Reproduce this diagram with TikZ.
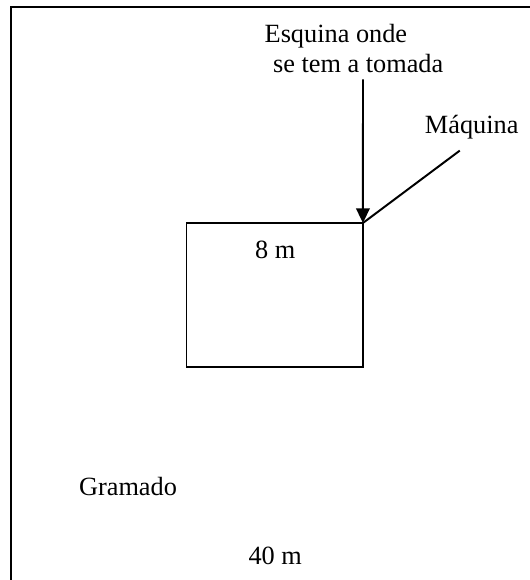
\documentclass[tikz,border=0pt]{standalone}
\usepackage{fontspec}
\setmainfont{Liberation Serif}
\usepackage{tikz}
\usetikzlibrary{arrows.meta, positioning}

\begin{document}
\begin{tikzpicture}[x=0.4563pt, y=-0.4563pt, line width=0.9pt,
  lbl/.style={font=\fontsize{12}{13.8}\selectfont, inner sep=0pt, anchor=base}]
  \useasboundingbox (0,0) rectangle (530,580);

  % Terreno
  \draw (11,580) -- (11,7) -- (530,7);

  % Maquina
  \node[draw, inner sep=0pt, outer sep=0pt, anchor=north west, minimum width=80.5pt, minimum height=65.9pt]
    (maq) at (186.5,223) {};
  \node[lbl] (lado) at (275.2,259) {8 m};

  % Labels
  \node[lbl, anchor=base west] (esq1) at (263.7,42.5) {Esquina onde};
  \node[lbl, anchor=base west] (esq2) at (272.1,72.9) {se tem a tomada};
  \node[lbl] (maqlbl) at (471.7,133.9) {Máquina};
  \node[lbl] (grama) at (128,495.7) {Gramado};
  \node[lbl] (larg) at (275.2,564) {40 m};

  % Setas
  \coordinate (tomada) at (363,79.5);
  \coordinate (ponta) at (459.8,150.6);
  \draw[-{Triangle[length=6.7pt, width=6.2pt]}] (tomada) -- (maq.north east);
  \draw (maq.north east) -- (ponta);
\end{tikzpicture}
\end{document}
